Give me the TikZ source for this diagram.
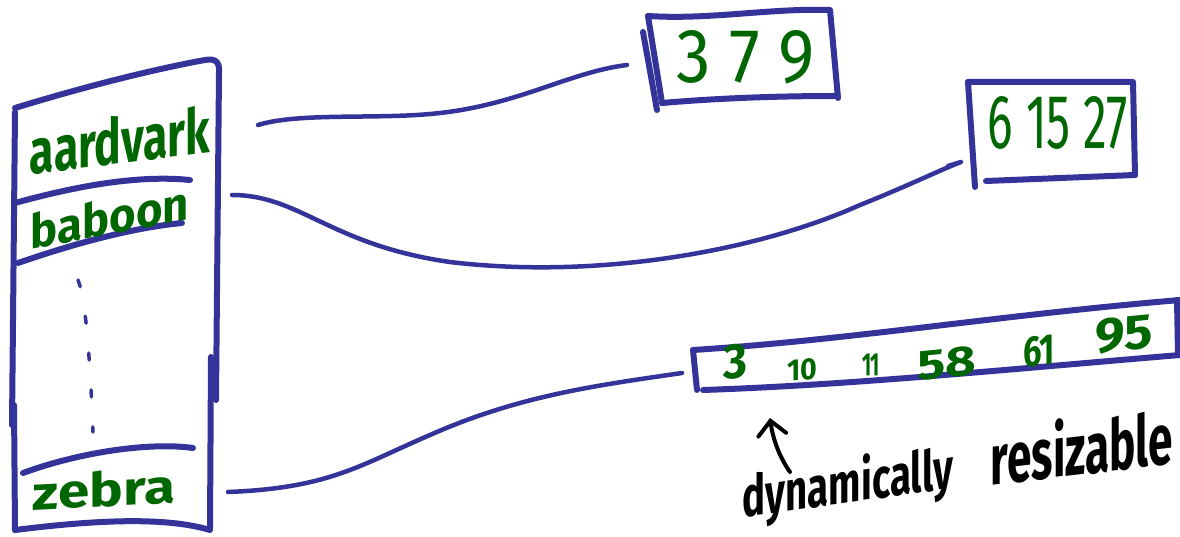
\documentclass[tikz,border=0pt]{standalone}
\usepackage{fontspec}
\setmainfont{Fira Sans}
\usetikzlibrary{arrows.meta}
\definecolor{ink}{RGB}{51,51,153}
\definecolor{leaf}{RGB}{0,102,0}
\tikzset{
  pen/.style={draw=ink, line width=6pt, line cap=round, line join=round},
  wire/.style={draw=ink, line width=4.5pt, line cap=round, line join=round},
  word/.style={text=leaf, inner sep=0pt, font=\bfseries},
  digits/.style={text=leaf, inner sep=0pt, font=\mdseries},
  note/.style={text=black, inner sep=0pt, font=\bfseries},
  pointer/.style={draw=black, line width=4pt, line cap=round,
    -{Straight Barb[length=14pt, width=28pt, line cap=round]}},
}
% text squeezed into a box of given width and height (in pt)
\newcommand{\hw}[3]{\resizebox{#1pt}{#2pt}{#3}}

\begin{document}
\begin{tikzpicture}[x=1pt, y=-1pt]
\useasboundingbox (0,0) rectangle (1180,537);

% ---- the dictionary column ----
\draw[pen] (15,108) .. controls (80,88) and (150,70) .. (205,60)
           .. controls (215,58) and (220,62) .. (219,72) -- (216,400);
\draw[pen] (211,357) -- (210,528);
\draw[pen] (15,530) .. controls (80,522) and (160,515) .. (210,530);
\draw[pen] (15,112) -- (12,425);
\draw[pen] (14,405) -- (15,530);
% row separators
\draw[pen] (15,203) .. controls (80,185) and (140,175) .. (190,180);
\draw[pen] (18,263) .. controls (70,245) and (130,228) .. (182,223);
\draw[pen] (23,473) .. controls (80,452) and (150,442) .. (193,448);
% vertical ellipsis
\draw[pen, line width=3.5pt, dash pattern=on 7pt off 30pt]
  (78,280) .. controls (86,300) and (90,360) .. (93,432);

% terms, written along a rising baseline
\node[word, yslant=0.12] (aard) at (120,140) {\hw{180}{48}{aardvark}};
\node[word, yslant=0.19] (bab)  at (110,217) {\hw{158}{36}{baboon}};
\node[word, yslant=0.05] (zeb)  at (104,489) {\hw{142}{36}{zebra}};

% ---- postings lists ----
% 3 7 9
\draw[pen] (648,16) .. controls (710,20) and (770,8) .. (830,10) -- (838,98);
\draw[pen] (662,103) .. controls (720,98) and (780,96) .. (836,96);
\draw[pen] (648,16) -- (662,103);
\draw[pen] (643,32) -- (657,110);
\node[digits] (pa) at (746,57) {\hw{138}{52}{3 7 9}};

% 6 15 27
\draw[pen] (968,82) -- (1133,82) -- (1135,175);
\draw[pen] (986,181) -- (1135,175);
\draw[pen] (968,82) -- (975,187);
\node[digits] (pb) at (1058,123) {\hw{140}{52}{6 15 27}};

% 3 10 11 58 61 95
\draw[pen] (693,350) .. controls (850,340) and (1000,315) .. (1180,300);
\draw[pen] (703,390) .. controls (850,385) and (1000,370) .. (1180,355);
\draw[pen] (693,350) -- (697,390);
\draw[pen] (1177,300) -- (1178,355);
\node[word, yslant=0.1] (n3)  at (735,362)  {\hw{24}{34}{3}};
\node[word, yslant=0.1] (n10) at (802,370)  {\hw{30}{21}{10}};
\node[word, yslant=0.1] (n11) at (871,365)  {\hw{18}{22}{11}};
\node[word, yslant=0.1] (n58) at (947,363)  {\hw{59}{29}{58}};
\node[word, yslant=0.1] (n61) at (1039,351) {\hw{32}{30}{61}};
\node[word, yslant=0.1] (n95) at (1124,334) {\hw{58}{34}{95}};

% ---- pointers from terms to their lists ----
\coordinate (aout) at (258,125);
\coordinate (ain)  at (627,65);
\coordinate (bout) at (232,195);
\coordinate (bin)  at (961,162);
\coordinate (bhook) at (948,166);
\coordinate (zout) at (228,492);
\coordinate (zin)  at (682,373);

\draw[wire] (aout) .. controls (300,112) and (380,120) .. (440,113)
            .. controls (520,104) and (570,72) .. (ain);
\draw[wire] (bout) .. controls (300,195) and (330,245) .. (450,262)
            .. controls (600,280) and (760,250) .. (860,205)
            .. controls (910,185) and (940,170) .. (bin) -- (bhook);
\draw[wire] (zout) .. controls (330,488) and (360,465) .. (430,435)
            .. controls (520,395) and (600,385) .. (zin);

% ---- annotation ----
\node[note, yslant=0.14] (dyn) at (848,486) {\hw{210}{46}{dynamically}};
\node[note, yslant=0.12] (res) at (1082,446) {\hw{182}{58}{resizable}};
\coordinate (upfoot) at (790,472);
\coordinate (uptip)  at (770,418);
\draw[pointer] (upfoot) .. controls (780,458) and (773,440) .. (uptip);
\end{tikzpicture}
\end{document}
